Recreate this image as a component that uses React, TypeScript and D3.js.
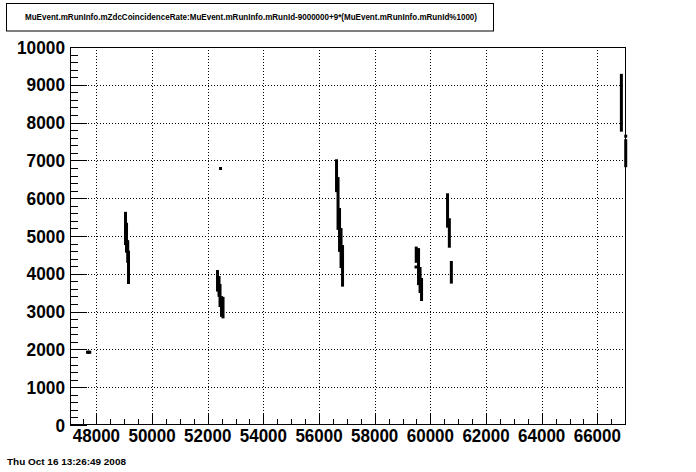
import React from 'react';
import {scaleLinear, range} from 'd3';

// run segments: x (runId expression), top and bottom of the vertical spread of the rate
const segX = [49045, 49081, 49124, 49152, 52351, 52405, 52441, 52495, 52549, 56628, 56682, 56736, 56790, 56844, 59492, 59575, 59629, 59683, 60617, 60682, 60754, 66864, 67020]
const segTop = [5600, 5310, 4850, 4570, 4060, 3900, 3690, 3370, 3350, 6990, 6520, 5700, 5170, 4720, 4680, 4640, 4140, 3850, 6090, 5430, 4300, 9250, 7520]
const segBottom = [4800, 4600, 4330, 3770, 3570, 3430, 3160, 2900, 2860, 6200, 5200, 4620, 4190, 3700, 4330, 3740, 3530, 3320, 5260, 4730, 3780, 7800, 6860]

// single points
const ptX = [47680, 47720, 47760, 52459, 59485, 67020]
const ptY = [1925, 1925, 1925, 6786, 4180, 7640]

const xTicks = [48000, 50000, 52000, 54000, 56000, 58000, 60000, 62000, 64000, 66000]
const yTicks = [0, 1000, 2000, 3000, 4000, 5000, 6000, 7000, 8000, 9000, 10000]

const titleText = 'MuEvent.mRunInfo.mZdcCoincidenceRate:MuEvent.mRunInfo.mRunId-9000000+9*(MuEvent.mRunInfo.mRunId%1000)'
const dateText = 'Thu Oct 16 13:26:49 2008'

const width = 696
const height = 472
const left = 70
const right = 626
const top = 47
const bottom = 425
const font = 'Liberation Sans, Arial, Helvetica, sans-serif'

export default function App() {
    const x = scaleLinear().domain([47050, 67030]).range([left, right])
    const y = scaleLinear().domain([0, 10000]).range([bottom, top])

    const xMinor = range(47500, 67030, 500).filter(v => v % 2000 !== 0)
    const yMinor = range(200, 10000, 200).filter(v => v % 1000 !== 0)
    const ms = 3 // marker size in px

    return (
        <svg width={width} height={height}
             style={{position: 'absolute', left: 0, top: 0, background: '#fff'}}>
            <rect x={0} y={0} width={width} height={height} fill="#fff"/>

            {/* title pave */}
            <rect x={6.5} y={3.5} width={487} height={27.5} fill="#fff" stroke="#000" strokeWidth={1}/>
            <text x={251} y={19.5} textAnchor="middle" fontFamily={font} fontWeight="bold" fontSize={9}
                  textLength={452} lengthAdjust="spacingAndGlyphs">{titleText}</text>

            {/* grid */}
            <g stroke="#000" strokeWidth={1} strokeDasharray="1 2">
                {xTicks.map(t => (
                    <line key={'gx' + t} x1={Math.round(x(t)) + 0.5} x2={Math.round(x(t)) + 0.5} y1={top} y2={bottom}/>
                ))}
                {yTicks.filter(t => t > 0 && t < 10000).map(t => (
                    <line key={'gy' + t} x1={left} x2={right} y1={Math.round(y(t)) + 0.5} y2={Math.round(y(t)) + 0.5}/>
                ))}
            </g>

            {/* data */}
            <g fill="#000">
                {segX.map((d, i) => (
                    <rect key={'s' + i}
                          x={x(d) - ms / 2}
                          y={y(segTop[i]) - ms / 2}
                          width={ms}
                          height={y(segBottom[i]) - y(segTop[i]) + ms}/>
                ))}
                {ptX.map((d, i) => (
                    <rect key={'p' + i} x={x(d) - ms / 2} y={y(ptY[i]) - ms / 2} width={ms} height={ms}/>
                ))}
            </g>

            {/* frame */}
            <rect x={left + 0.5} y={top + 0.5} width={right - left - 1} height={bottom - top - 1}
                  fill="none" stroke="#000" strokeWidth={1}/>

            {/* axis ticks */}
            <g stroke="#000" strokeWidth={1}>
                {xTicks.map(t => (
                    <line key={'xt' + t} x1={Math.round(x(t)) + 0.5} x2={Math.round(x(t)) + 0.5} y1={bottom} y2={bottom - 11}/>
                ))}
                {xMinor.map(t => (
                    <line key={'xm' + t} x1={Math.round(x(t)) + 0.5} x2={Math.round(x(t)) + 0.5} y1={bottom} y2={bottom - 6}/>
                ))}
                {yTicks.map(t => (
                    <line key={'yt' + t} x1={left} x2={left + 17} y1={Math.round(y(t)) + 0.5} y2={Math.round(y(t)) + 0.5}/>
                ))}
                {yMinor.map(t => (
                    <line key={'ym' + t} x1={left} x2={left + 8} y1={Math.round(y(t)) + 0.5} y2={Math.round(y(t)) + 0.5}/>
                ))}
            </g>

            {/* tick labels */}
            <g fontFamily={font} fontWeight="bold" fontSize={18} fill="#000">
                {xTicks.map(t => (
                    <text key={'xl' + t} x={x(t)} y={442} textAnchor="middle"
                          textLength={String(t).length * 9.45} lengthAdjust="spacingAndGlyphs">{t}</text>
                ))}
                {yTicks.map(t => (
                    <text key={'yl' + t} x={65} y={y(t) + 6.6} textAnchor="end"
                          textLength={String(t).length * 9.6} lengthAdjust="spacingAndGlyphs">{t}</text>
                ))}
            </g>

            <text x={7} y={464.5} fontFamily={font} fontWeight="bold" fontSize={8.5}
                  textLength={119} lengthAdjust="spacingAndGlyphs">{dateText}</text>
        </svg>
    );
}
